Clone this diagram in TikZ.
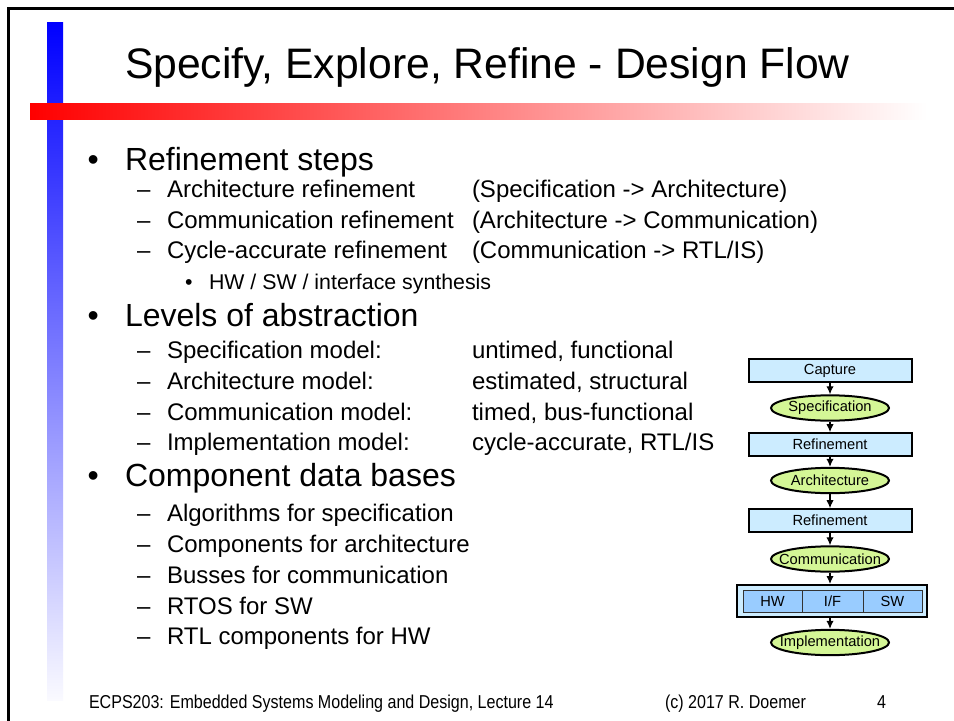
\documentclass[tikz,border=0pt]{standalone}
\usepackage{fontspec}
\setmainfont{Liberation Sans}
\newfontfamily\footfont{Liberation Sans}[FakeStretch=0.86]
\usetikzlibrary{shapes.geometric,arrows.meta}

\definecolor{boxblue}{RGB}{204,236,255}
\definecolor{cellblue}{RGB}{153,204,255}
\definecolor{ovalgreen}{RGB}{212,246,150}

\begin{document}
\begin{tikzpicture}[x=0.75pt,y=-0.75pt,
  txt/.style={anchor=base west,inner sep=0pt,outer sep=0pt},
  titletext/.style={txt,font=\fontsize{32}{32}\selectfont},
  lone/.style={txt,font=\fontsize{24}{24}\selectfont},
  ltwo/.style={txt,font=\fontsize{18}{18}\selectfont},
  lthree/.style={txt,font=\fontsize{16}{16}\selectfont},
  foot/.style={txt,font=\footfont\fontsize{14}{14}\selectfont},
  stepbox/.style={draw=black,line width=1.5pt,fill=boxblue,rectangle,
    minimum width=122.25pt,minimum height=17pt,inner sep=0pt,
    font=\fontsize{11}{11}\selectfont},
  model/.style={draw=black,line width=1.5pt,fill=ovalgreen,ellipse,
    minimum width=88.5pt,minimum height=19pt,inner sep=0pt,
    font=\fontsize{11}{11}\selectfont},
  cell/.style={draw=black!80,line width=0.75pt,fill=cellblue,rectangle,
    minimum height=16.5pt,inner sep=0pt,font=\fontsize{11}{11}\selectfont},
  flow/.style={draw=black,line width=0.9pt,-{Latex[length=6pt,width=5.5pt]}}
]
% page
\fill[white] (0,0) rectangle (954,721);
\useasboundingbox (0,0) rectangle (954,721);

% slide frame (top and left edges)
\draw[line width=2pt] (8.5,721) -- (8.5,8.5) -- (954,8.5);

% decorative bars
\shade[top color=blue,bottom color=blue!2!white] (47,22) rectangle (63,700);
\shade[left color=red,right color=white] (30,103) rectangle (927,119);

% title
\node[titletext] (title) at (125,78) {Specify, Explore, Refine - Design Flow};

% refinement steps
\node[lone] (b1) at (87.5,170) {•};
\node[lone] (h1) at (125,170) {Refinement steps};
\node[ltwo] (d11) at (137,197) {–};
\node[ltwo] (t11) at (167,197) {Architecture refinement};
\node[ltwo] (r11) at (472,197) {(Specification -> Architecture)};
\node[ltwo] (d12) at (137,228) {–};
\node[ltwo] (t12) at (167,228) {Communication refinement};
\node[ltwo] (r12) at (472,228) {(Architecture -> Communication)};
\node[ltwo] (d13) at (137,258) {–};
\node[ltwo] (t13) at (167,258) {Cycle-accurate refinement};
\node[ltwo] (r13) at (472,258) {(Communication -> RTL/IS)};
\node[lthree] (b131) at (185,289) {•};
\node[lthree] (t131) at (209,289) {HW / SW / interface synthesis};

% levels of abstraction
\node[lone] (b2) at (87.5,326) {•};
\node[lone] (h2) at (125,326) {Levels of abstraction};
\node[ltwo] (d21) at (137,358) {–};
\node[ltwo] (t21) at (167,358) {Specification model:};
\node[ltwo] (r21) at (472,358) {untimed, functional};
\node[ltwo] (d22) at (137,389) {–};
\node[ltwo] (t22) at (167,389) {Architecture model:};
\node[ltwo] (r22) at (472,389) {estimated, structural};
\node[ltwo] (d23) at (137,420) {–};
\node[ltwo] (t23) at (167,420) {Communication model:};
\node[ltwo] (r23) at (472,420) {timed, bus-functional};
\node[ltwo] (d24) at (137,450) {–};
\node[ltwo] (t24) at (167,450) {Implementation model:};
\node[ltwo] (r24) at (472,450) {cycle-accurate, RTL/IS};

% component data bases
\node[lone] (b3) at (87.5,486) {•};
\node[lone] (h3) at (125,486) {Component data bases};
\node[ltwo] (d31) at (137,521) {–};
\node[ltwo] (t31) at (167,521) {Algorithms for specification};
\node[ltwo] (d32) at (137,552) {–};
\node[ltwo] (t32) at (167,552) {Components for architecture};
\node[ltwo] (d33) at (137,583) {–};
\node[ltwo] (t33) at (167,583) {Busses for communication};
\node[ltwo] (d34) at (137,614) {–};
\node[ltwo] (t34) at (167,614) {RTOS for SW};
\node[ltwo] (d35) at (137,644) {–};
\node[ltwo] (t35) at (167,644) {RTL components for HW};

% design flow (oval labels are zero-width boxes so the ovals keep a fixed size)
\node[stepbox] (cap) at (830,370.5) {Capture};
\node[model] (spec) at (830,408) {\makebox[0pt]{Specification}};
\node[stepbox] (ref1) at (830,444.5) {Refinement};
\node[model] (arch) at (830,480.5) {\makebox[0pt]{Architecture}};
\node[stepbox] (ref2) at (830,520.5) {Refinement};
\node[model] (comm) at (830,559) {\makebox[0pt]{Communication}};
\node[draw=black,line width=1.5pt,fill=boxblue,rectangle,minimum width=142.5pt,
  minimum height=24pt,inner sep=0pt] (synth) at (832,601) {};
\node[cell,minimum width=44.25pt] (hw) at (772.5,601) {HW};
\node[cell,minimum width=45.75pt] (if) at (832.5,601) {I/F};
\node[cell,minimum width=44.25pt] (sw) at (892.5,601) {SW};
\node[model] (impl) at (830,642.5) {\makebox[0pt]{Implementation}};

\draw[flow] (cap) -- (spec);
\draw[flow] (spec) -- (ref1);
\draw[flow] (ref1) -- (arch);
\draw[flow] (arch) -- (ref2);
\draw[flow] (ref2) -- (comm);
\draw[flow] (comm.south) -- (comm.south |- synth.north);
\draw[flow] (synth.south -| impl.north) -- (impl.north);

% footer
\node[foot] (fl) at (89,708) {ECPS203: Embedded Systems Modeling and Design, Lecture 14};
\node[foot] (fc) at (665,708) {(c) 2017 R. Doemer};
\node[foot] (fp) at (877,708) {4};
\end{tikzpicture}
\end{document}
